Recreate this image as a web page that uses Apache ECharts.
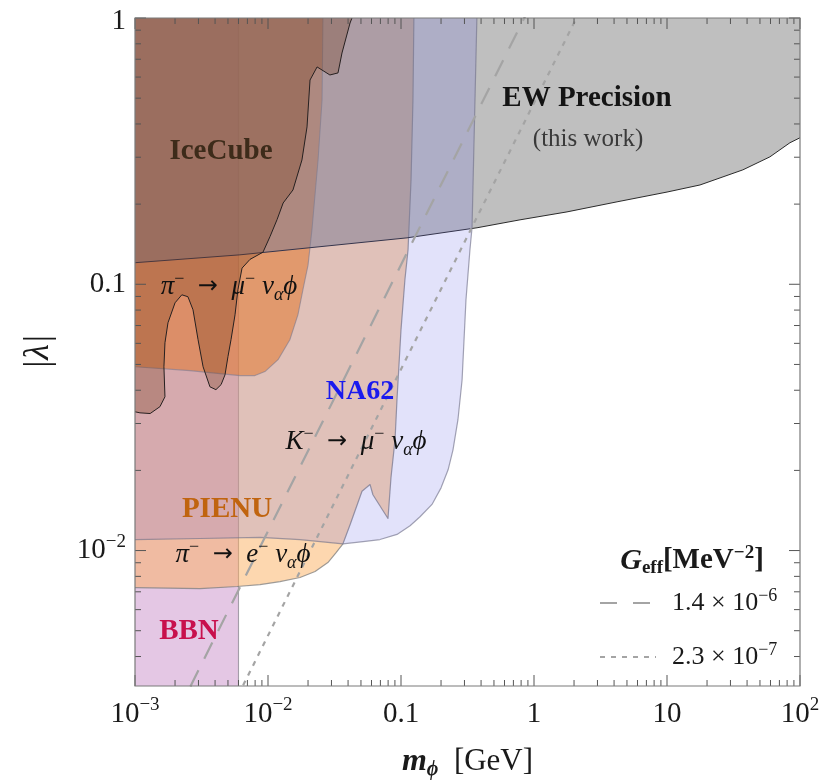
<!DOCTYPE html>
<html>
<head>
<meta charset="utf-8">
<script src="https://cdn.jsdelivr.net/npm/echarts@6/dist/echarts.min.js"></script>
<style>
  html, body { margin: 0; padding: 0; background: #ffffff; }
  #chart { width: 821px; height: 784px; }
</style>
</head>
<body>
<div id="chart"></div>
<script>
// Axis ranges: scalar mass m_phi in GeV, coupling |lambda|
const X_MIN = 1e-3, X_MAX = 1e2;
const Y_MIN = 0.0031, Y_MAX = 1;

// Tick labels ([mantissa, exponent])
const xMajorTicks = [1e-3, 1e-2, 0.1, 1, 10, 100];
const xTickText = [['10', '−3'], ['10', '−2'], ['0.1', ''], ['1', ''], ['10', ''], ['10', '2']];
const yMajorTicks = [0.01, 0.1, 1];
const yTickText = [['10', '−2'], ['0.1', ''], ['1', '']];

// Effective four-fermion couplings for the reference contours, MeV^-2
const gEffValues = [1.4e-6, 2.3e-7];
const gEffText = [['1.4 × 10', '−6'], ['2.3 × 10', '−7']];

// BBN excludes light scalars below this mass (GeV)
const bbnMassLimit = 0.006;

// Exclusion boundaries, [m_phi (GeV), |lambda|]
const pienuEdge = [
  [0.001, 0.00726], [0.00308, 0.00720], [0.00585, 0.00733], [0.00871, 0.00745],
  [0.0123, 0.00765], [0.0174, 0.00792], [0.0226, 0.00834], [0.0282, 0.00901],
  [0.0325, 0.00982], [0.0366, 0.0106], [0.0414, 0.0125], [0.0509, 0.0167],
  [0.0585, 0.0177], [0.0615, 0.0162], [0.0798, 0.0132], [0.0841, 0.0188],
  [0.0902, 0.0261], [0.0933, 0.0369], [0.100, 0.0675], [0.107, 0.104],
  [0.113, 0.135], [0.119, 0.247], [0.123, 0.492], [0.125, 1]
];

const na62Edge = [
  [0.001, 0.0110], [0.00308, 0.0111], [0.00871, 0.0112], [0.0174, 0.0110],
  [0.0366, 0.0106], [0.0518, 0.0108], [0.0695, 0.0110], [0.0933, 0.0115],
  [0.117, 0.0124], [0.139, 0.0134], [0.171, 0.0149], [0.200, 0.0172],
  [0.226, 0.0201], [0.246, 0.0239], [0.268, 0.0310], [0.288, 0.0438],
  [0.308, 0.0875], [0.330, 0.135], [0.342, 0.163], [0.372, 1]
];

const piMuEdge = [
  [0.001, 0.0490], [0.00259, 0.0474], [0.00615, 0.0454], [0.00798, 0.0454],
  [0.00949, 0.0470], [0.0119, 0.0521], [0.0146, 0.0619], [0.0168, 0.0769],
  [0.0183, 0.0953], [0.0200, 0.118], [0.0214, 0.160], [0.0238, 0.293],
  [0.0255, 0.492], [0.0259, 1]
];

const ewEdge = [
  [0.001, 0.1205], [0.00615, 0.129], [0.111, 0.1494], [0.373, 0.163],
  [0.785, 0.1746], [1.77, 0.187], [4.21, 0.204], [10, 0.222],
  [17.7, 0.236], [37.2, 0.269], [59.4, 0.301], [84, 0.340], [100, 0.355]
];

const iceCubeEdge = [
  [0.0428, 1], [0.0414, 0.958], [0.0360, 0.739], [0.0336, 0.622],
  [0.0292, 0.611], [0.0234, 0.655], [0.0207, 0.585], [0.01965, 0.390],
  [0.0180, 0.293], [0.0154, 0.226], [0.0130, 0.202], [0.0117, 0.175],
  [0.01035, 0.151], [0.00917, 0.132], [0.00732, 0.124], [0.00638, 0.115],
  [0.00594, 0.0954], [0.00565, 0.0768], [0.00527, 0.0619], [0.00500, 0.0535],
  [0.00475, 0.0457], [0.00444, 0.0420], [0.00406, 0.0402], [0.00366, 0.0412],
  [0.00325, 0.0490], [0.00298, 0.0619], [0.00273, 0.0802], [0.00250, 0.0898],
  [0.00225, 0.0913], [0.00200, 0.0852], [0.00177, 0.0717], [0.00168, 0.0603],
  [0.00165, 0.0490], [0.00168, 0.0378], [0.00154, 0.0347], [0.00130, 0.0327],
  [0.00109, 0.0329], [0.001, 0.0332]
];

// ---------------------------------------------------------------------------
const W = 821, H = 784;
const GRID = { left: 135, top: 18, right: 21, bottom: 98 };
const SERIF = "'Liberation Serif','DejaVu Serif',serif";
const ARROW_FONT = "'DejaVu Sans',sans-serif";
const TEXT = '#1a1a1a';

// One filled polygon plus its visible boundary line
function regionSeries(edge, closing, fillColor, edgeColor, edgeWidth, z) {
  return {
    type: 'custom', coordinateSystem: 'cartesian2d', silent: true, z: z,
    data: edge,
    renderItem: function (params, api) {
      if (params.dataIndex !== 0) return null;
      const outline = edge.map(p => api.coord(p));
      const area = edge.concat(closing).map(p => api.coord(p));
      return {
        type: 'group', children: [
          { type: 'polygon', shape: { points: area }, style: { fill: fillColor } },
          { type: 'polyline', shape: { points: outline },
            style: { fill: null, stroke: edgeColor, lineWidth: edgeWidth, lineJoin: 'round' } }
        ]
      };
    }
  };
}

// Log-decade tick list: [value, isMajor, labelIndex]
function decadeTicks(majors, lo, hi) {
  const out = [];
  const e0 = Math.floor(Math.log10(lo)), e1 = Math.ceil(Math.log10(hi));
  for (let e = e0; e <= e1; e++) {
    for (let k = 1; k <= 9; k++) {
      const v = k * Math.pow(10, e);
      if (v < lo * 0.9999 || v > hi * 1.0001) continue;
      const mi = majors.findIndex(m => Math.abs(m - v) / m < 1e-6);
      out.push([v, mi >= 0 ? 1 : 0, mi]);
    }
  }
  return out;
}

function tickLabel(parts) {
  return parts[1] ? '{b|' + parts[0] + '}{s|' + parts[1] + '}' : '{b|' + parts[0] + '}';
}
const tickRich = {
  b: { fontFamily: SERIF, fontSize: 29, lineHeight: 36, fill: TEXT },
  s: { fontFamily: SERIF, fontSize: 19, lineHeight: 14, verticalAlign: 'top', fill: TEXT }
};
const tickStroke = { stroke: '#555', lineWidth: 1 };

const xTicks = decadeTicks(xMajorTicks, X_MIN, X_MAX).map(t => [t[0], Y_MIN, t[1], t[2]]);
const yTicks = decadeTicks(yMajorTicks, Y_MIN, Y_MAX).map(t => [X_MIN, t[0], t[1], t[2]]);

const xTickSeries = {
  type: 'custom', coordinateSystem: 'cartesian2d', silent: true, z: 20,
  data: xTicks,
  renderItem: function (params, api) {
    const v = api.value(0), major = api.value(2) === 1, li = api.value(3);
    const pb = api.coord([v, Y_MIN]), pt = api.coord([v, Y_MAX]);
    const len = major ? 11 : 6;
    const ch = [
      { type: 'line', shape: { x1: pb[0], y1: pb[1], x2: pb[0], y2: pb[1] - len }, style: tickStroke },
      { type: 'line', shape: { x1: pt[0], y1: pt[1], x2: pt[0], y2: pt[1] + len }, style: tickStroke }
    ];
    if (major) {
      ch.push({ type: 'text', x: pb[0], y: pb[1] + 28,
        style: { text: tickLabel(xTickText[li]), rich: tickRich, align: 'center', verticalAlign: 'middle' } });
    }
    return { type: 'group', children: ch };
  }
};

const yTickSeries = {
  type: 'custom', coordinateSystem: 'cartesian2d', silent: true, z: 20,
  data: yTicks,
  renderItem: function (params, api) {
    const v = api.value(1), major = api.value(2) === 1, li = api.value(3);
    const pl = api.coord([X_MIN, v]), pr = api.coord([X_MAX, v]);
    const len = major ? 11 : 6;
    const ch = [
      { type: 'line', shape: { x1: pl[0], y1: pl[1], x2: pl[0] + len, y2: pl[1] }, style: tickStroke },
      { type: 'line', shape: { x1: pr[0], y1: pr[1], x2: pr[0] - len, y2: pr[1] }, style: tickStroke }
    ];
    if (major) {
      ch.push({ type: 'text', x: pl[0] - 9, y: pl[1] + (v === Y_MAX ? 3 : 0),
        style: { text: tickLabel(yTickText[li]), rich: tickRich, align: 'right', verticalAlign: 'middle' } });
    }
    return { type: 'group', children: ch };
  }
};

// Contours of constant G_eff: |lambda| = sqrt(G_eff) * m_phi (m in MeV)
const contourDash = [[18, 13], [5, 6]];
const contourSeries = gEffValues.map((g, i) => ({
  type: 'line', z: 15, silent: true, symbol: 'none', clip: true,
  data: [X_MIN, X_MAX].map(m => [m, Math.sqrt(g) * 1e3 * m]),
  lineStyle: { color: '#a4a4a4', width: 2.2, type: contourDash[i] }
}));

const TOP = [X_MIN, Y_MAX];
const series = [
  regionSeries([[bbnMassLimit, Y_MIN], [bbnMassLimit, Y_MAX]], [TOP, [X_MIN, Y_MIN]],
    'rgba(195,130,195,0.45)', 'rgba(100,100,110,0.55)', 1.1, 2),
  regionSeries(pienuEdge, [TOP], 'rgba(252,175,95,0.5)', 'rgba(125,125,125,0.75)', 1.2, 3),
  regionSeries(piMuEdge, [TOP], 'rgba(255,120,0,0.53)', 'rgba(120,120,120,0.55)', 1.1, 4),
  regionSeries(ewEdge, [[X_MAX, Y_MAX], TOP], 'rgba(128,128,128,0.5)', '#2a2a2a', 1, 5),
  regionSeries(na62Edge, [TOP], 'rgba(100,100,230,0.19)', 'rgba(115,115,140,0.65)', 1.2, 6),
  regionSeries(iceCubeEdge, [TOP], 'rgba(120,60,30,0.31)', '#262020', 1, 7)
].concat(contourSeries, [xTickSeries, yTickSeries]);

// Text annotations
const mathRich = {
  i: { fontFamily: SERIF, fontStyle: 'italic', fontSize: 27, lineHeight: 34, fill: '#111' },
  r: { fontFamily: SERIF, fontSize: 27, lineHeight: 34, fill: '#111' },
  a: { fontFamily: ARROW_FONT, fontSize: 24, lineHeight: 34, fill: '#111' },
  sp: { fontFamily: SERIF, fontSize: 18, lineHeight: 16, verticalAlign: 'top', fill: '#111' },
  sb: { fontFamily: SERIF, fontStyle: 'italic', fontSize: 18, lineHeight: 14, verticalAlign: 'bottom', fill: '#111' }
};
function decay(parent, daughter) {
  return '{i|' + parent + '}{sp|−}{r|  }{a|→}{r|  }{i|' + daughter + '}{sp|−}{r| }{i|ν}{sb|α}{i|ϕ}';
}
function label(x, y, text, opts) {
  return { type: 'text', x: x, y: y, z: 100, silent: true,
    style: Object.assign({ text: text, fontFamily: SERIF, align: 'center', verticalAlign: 'middle' }, opts) };
}
function boldLabel(x, y, text, size, color) {
  return label(x, y, text, { fontSize: size, fontWeight: 'bold', fill: color });
}

const legendRich = {
  t: { fontFamily: SERIF, fontSize: 26, lineHeight: 32, fill: TEXT },
  s: { fontFamily: SERIF, fontSize: 18, lineHeight: 14, verticalAlign: 'top', fill: TEXT }
};

const graphics = [
  { type: 'rect', z: 90, silent: true,
    shape: { x: GRID.left, y: GRID.top, width: W - GRID.left - GRID.right, height: H - GRID.top - GRID.bottom },
    style: { fill: null, stroke: '#7a7a7a', lineWidth: 1.2 } },

  boldLabel(221, 152, 'IceCube', 29, '#3d2b1a'),
  boldLabel(587, 99, 'EW Precision', 29, '#141414'),
  label(588, 139, '(this work)', { fontSize: 25, fill: '#3a3a3a' }),
  label(229, 287, decay('π', 'μ'), { rich: mathRich }),
  boldLabel(360, 392, 'NA62', 28, '#1a1aee'),
  label(356, 442, decay('K', 'μ'), { rich: mathRich }),
  boldLabel(227, 510, 'PIENU', 29, '#c0640f'),
  label(243, 555, decay('π', 'e'), { rich: mathRich }),
  boldLabel(189, 632, 'BBN', 29, '#c8104c'),

  // G_eff legend
  label(692, 561, '{G|G}{e|eff}{t|[MeV}{s|−2}{t|]}', { rich: {
    G: { fontFamily: SERIF, fontStyle: 'italic', fontWeight: 'bold', fontSize: 30, lineHeight: 34, fill: TEXT },
    e: { fontFamily: SERIF, fontWeight: 'bold', fontSize: 19, lineHeight: 13, verticalAlign: 'bottom', fill: TEXT },
    t: { fontFamily: SERIF, fontWeight: 'bold', fontSize: 29, lineHeight: 34, fill: TEXT },
    s: { fontFamily: SERIF, fontWeight: 'bold', fontSize: 19, lineHeight: 14, verticalAlign: 'top', fill: TEXT }
  } }),
  { type: 'line', z: 100, silent: true, shape: { x1: 600, y1: 603, x2: 652, y2: 603 },
    style: { stroke: '#a4a4a4', lineWidth: 2, lineDash: [17, 16] } },
  { type: 'line', z: 100, silent: true, shape: { x1: 600, y1: 657, x2: 656, y2: 657 },
    style: { stroke: '#a4a4a4', lineWidth: 2, lineDash: [5, 6] } },
  label(672, 603, '{t|' + gEffText[0][0] + '}{s|' + gEffText[0][1] + '}', { rich: legendRich, align: 'left' }),
  label(672, 657, '{t|' + gEffText[1][0] + '}{s|' + gEffText[1][1] + '}', { rich: legendRich, align: 'left' })
];

const hiddenParts = {
  axisLine: { show: false }, axisTick: { show: false }, axisLabel: { show: false }, splitLine: { show: false }
};

const chart = echarts.init(document.getElementById('chart'), null, { renderer: 'canvas' });
chart.setOption({
  animation: false,
  backgroundColor: '#ffffff',
  grid: { left: GRID.left, top: GRID.top, right: GRID.right, bottom: GRID.bottom,
    containLabel: false, outerBoundsMode: 'none' },
  xAxis: Object.assign({
    type: 'log', logBase: 10, min: X_MIN, max: X_MAX,
    name: '{m|m}{p|ϕ}{t|  [GeV]}', nameLocation: 'middle', nameGap: 58,
    nameTextStyle: { rich: {
      m: { fontFamily: SERIF, fontStyle: 'italic', fontWeight: 'bold', fontSize: 32, lineHeight: 36, color: TEXT },
      p: { fontFamily: SERIF, fontStyle: 'italic', fontWeight: 'bold', fontSize: 20, lineHeight: 14, verticalAlign: 'bottom', color: TEXT },
      t: { fontFamily: SERIF, fontSize: 31, lineHeight: 36, color: TEXT }
    } }
  }, hiddenParts),
  yAxis: Object.assign({
    type: 'log', logBase: 10, min: Y_MIN, max: Y_MAX,
    name: '|λ|', nameLocation: 'middle', nameGap: 78, nameRotate: 90,
    nameTextStyle: { fontFamily: SERIF, fontStyle: 'italic', fontSize: 36, color: TEXT }
  }, hiddenParts),
  series: series,
  graphic: { elements: graphics }
});
</script>
</body>
</html>
